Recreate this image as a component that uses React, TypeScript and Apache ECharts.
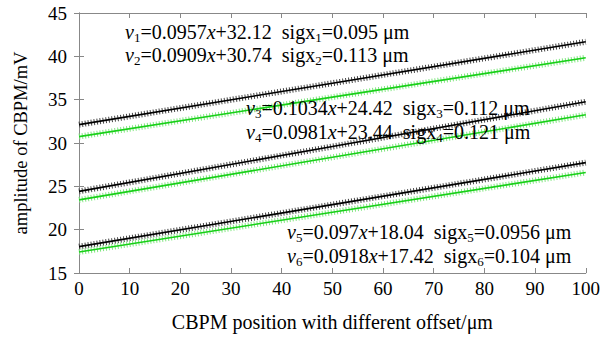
import React, { useEffect, useRef } from "react";
import * as echarts from "echarts";

const xs = [0, 50, 100];
const v1 = [32.12, 36.9, 41.68];
const v2 = [30.74, 35.29, 39.83];
const v3 = [24.42, 29.59, 34.76];
const v4 = [23.44, 28.35, 33.25];
const v5 = [18.04, 22.89, 27.74];
const v6 = [17.42, 22.01, 26.6];
const xTicks = [0, 10, 20, 30, 40, 50, 60, 70, 80, 90, 100];
const yTicks = [15, 20, 25, 30, 35, 40, 45];

const labels = [
  { v: "1", a: "=0.0957", b: "+32.12  sigx", s: "=0.095 μm" },
  { v: "2", a: "=0.0909", b: "+30.74  sigx", s: "=0.113 μm" },
  { v: "3", a: "=0.1034", b: "+24.42  sigx", s: "=0.112 μm" },
  { v: "4", a: "=0.0981", b: "+23.44  sigx", s: "=0.121 μm" },
  { v: "5", a: "=0.097", b: "+18.04  sigx", s: "=0.0956 μm" },
  { v: "6", a: "=0.0918", b: "+17.42  sigx", s: "=0.104 μm" },
];
const labelPos = [
  [125, 32], [125, 55], [246, 108], [246, 132], [287, 232], [287, 256],
];

const FONT = "Liberation Serif";

export default function App() {
  const ref = useRef<HTMLDivElement>(null);
  useEffect(() => {
    if (!ref.current) return;
    const chart = echarts.init(ref.current, undefined, { renderer: "svg" });
    const seriesData = [v1, v2, v3, v4, v5, v6];
    const series: any[] = [];
    seriesData.forEach((vals, i) => {
      const black = i % 2 === 0;
      const data = xs.map((x, k) => [x, vals[k]]);
      series.push({
        type: "line",
        data,
        symbol: "none",
        lineStyle: { color: black ? "#444" : "#80e680", width: 6, type: [1, 2] },
        z: 2,
      });
      series.push({
        type: "line",
        data,
        symbol: "none",
        lineStyle: { color: black ? "#000" : "#18d018", width: 1.6 },
        z: 3,
      });
    });
    const rich = {
      n: { fontSize: 20, fontFamily: FONT, color: "#000", lineHeight: 24 },
      i: { fontSize: 20, fontFamily: FONT, fontStyle: "italic", color: "#000", lineHeight: 24 },
      s: { fontSize: 13, fontFamily: FONT, color: "#000", lineHeight: 12, verticalAlign: "bottom" },
    };
    const graphic = labels.map((l, i) => ({
      type: "text",
      x: labelPos[i][0],
      y: labelPos[i][1],
      z: 10,
      style: {
        text: `{i|v}{s|${l.v}}{n|${l.a}}{i|x}{n|${l.b}}{s|${l.v}}{n|${l.s}}`,
        rich,
        font: `20px ${FONT}`,
        verticalAlign: "middle",
        fill: "#000",
      },
    }));
    const axisLine = { lineStyle: { color: "#888", width: 1 } };
    const lbl = { fontSize: 19, fontFamily: FONT, color: "#000" };
    chart.setOption({
      animation: false,
      backgroundColor: "#fff",
      textStyle: { fontFamily: FONT },
      grid: { left: 79, right: 17, top: 13, bottom: 68, containLabel: false },
      xAxis: [
        {
          type: "value",
          min: 0,
          max: 100,
          interval: 10,
          position: "bottom",
          name: "CBPM position with different offset/μm",
          nameLocation: "middle",
          nameGap: 39,
          nameTextStyle: { ...lbl, fontSize: 20 },
          axisLine,
          axisTick: { inside: true, length: 5, lineStyle: { color: "#888" } },
          axisLabel: { ...lbl, margin: 6, customValues: xTicks },
          splitLine: { show: false },
        },
        {
          type: "value",
          min: 0,
          max: 100,
          interval: 10,
          position: "top",
          axisLine,
          axisTick: { inside: true, length: 5, lineStyle: { color: "#888" } },
          axisLabel: { show: false },
          splitLine: { show: false },
        },
      ],
      yAxis: [
        {
          type: "value",
          min: 15,
          max: 45,
          interval: 5,
          position: "left",
          name: "amplitude of CBPM/mV",
          nameLocation: "middle",
          nameGap: 49,
          nameTextStyle: { ...lbl, fontSize: 18.5 },
          axisLine,
          axisTick: { inside: true, length: 5, lineStyle: { color: "#888" } },
          axisLabel: { ...lbl, margin: 12, customValues: yTicks },
          splitLine: { show: false },
        },
        {
          type: "value",
          min: 15,
          max: 45,
          interval: 5,
          position: "right",
          axisLine,
          axisTick: { inside: true, length: 5, lineStyle: { color: "#888" } },
          axisLabel: { show: false },
          splitLine: { show: false },
        },
      ],
      series,
      graphic,
    });
    return () => chart.dispose();
  }, []);
  return (
    <div
      ref={ref}
      style={{ width: 603, height: 341, position: "fixed", left: 0, top: 0 }}
    />
  );
}
